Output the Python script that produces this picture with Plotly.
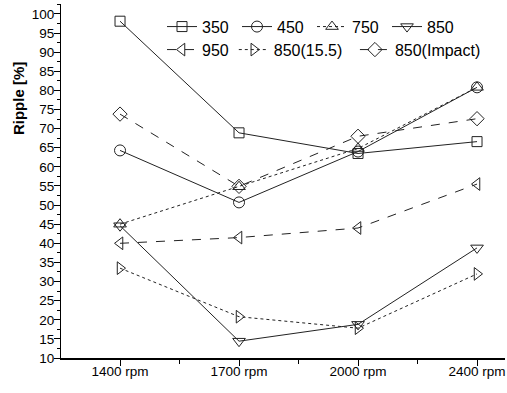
import plotly.graph_objects as go

categories = ["1400 rpm", "1700 rpm", "2000 rpm", "2400 rpm"]
series_names = ["350", "450", "750", "850", "950", "850(15.5)", "850(Impact)"]
v350 = [98.1, 68.9, 63.5, 66.6]
v450 = [64.3, 50.7, 64.0, 80.8]
v750 = [45.0, 54.8, 64.8, 80.8]
v850 = [44.6, 14.4, 18.8, 38.8]
v950 = [40.0, 41.5, 44.0, 55.5]
v850_155 = [33.5, 20.8, 17.8, 32.0]
v850_imp = [73.8, 54.9, 68.0, 72.6]
y_ticks = list(range(10, 101, 5))

values = [v350, v450, v750, v850, v950, v850_155, v850_imp]
symbols = ["square-open", "circle-open", "triangle-up-open", "triangle-down-open",
           "triangle-left-open", "triangle-right-open", "diamond-open"]
dashes = ["solid", "solid", "dot", "solid", "dash", "dot", "dash"]
sizes = [10, 11, 11, 11, 11, 11, 11]
legend_ids = ["legend", "legend", "legend", "legend", "legend2", "legend2", "legend3"]

xs = list(range(len(categories)))
col = "#222222"
fig = go.Figure()
for i, (name, vals) in enumerate(zip(series_names, values)):
    fig.add_trace(go.Scatter(
        x=xs, y=vals, name=name, mode="lines+markers",
        line=dict(color=col, width=1, dash=dashes[i]),
        marker=dict(symbol=symbols[i], size=sizes[i], color=col, line=dict(width=1, color=col)),
        legend=legend_ids[i],
    ))

leg_common = dict(orientation="h", xanchor="left", yanchor="top",
                  bgcolor="rgba(0,0,0,0)", font=dict(size=16), itemwidth=30)
fig.update_layout(
    width=507, height=393,
    margin=dict(l=61, r=2, t=4, b=35),
    paper_bgcolor="white", plot_bgcolor="white",
    font=dict(family="Liberation Sans, Arial, sans-serif", color="black", size=13.5),
    showlegend=True,
    legend=dict(x=0.2275, y=0.984, entrywidth=30, **leg_common),
    legend2=dict(x=0.2275, y=0.919, **leg_common),
    legend3=dict(x=0.662, y=0.919, **leg_common),
    xaxis=dict(
        range=[-0.496, 3.235], tickmode="array", tickvals=xs, ticktext=categories,
        showgrid=False, zeroline=False, showline=True, linecolor="black", linewidth=1.5,
        ticks="outside", ticklen=6, tickcolor="black", tickwidth=1, ticklabelstandoff=-6,
        minor=dict(tickmode="array", tickvals=[0.5, 1.5, 2.5], ticks="outside", ticklen=4,
                   tickcolor="black", showgrid=False),
        tickfont=dict(size=13.5),
    ),
    yaxis=dict(
        range=[10, 102.6], tickmode="array", tickvals=y_ticks,
        showgrid=False, zeroline=False, showline=True, linecolor="black", linewidth=1,
        ticks="outside", ticklen=6, tickcolor="black", tickwidth=1, ticklabelstandoff=-3,
        minor=dict(dtick=2.5, tick0=10, ticks="outside", ticklen=3, tickcolor="black", showgrid=False),
        tickfont=dict(size=13.5),
    ),
)
fig.add_annotation(text="<b>Ripple [%]</b>", textangle=-90, x=-0.097, y=0.734,
                   xref="paper", yref="paper", showarrow=False, font=dict(size=15),
                   xanchor="center", yanchor="middle")
fig.write_html("out.html")
